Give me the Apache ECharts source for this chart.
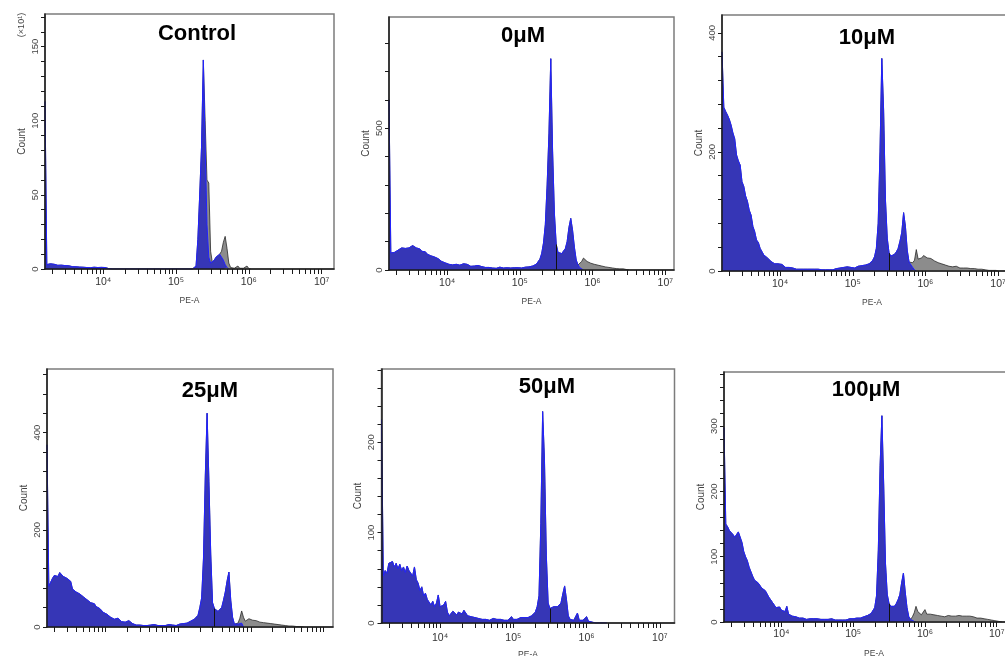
<!DOCTYPE html>
<html>
<head>
<meta charset="utf-8">
<script src="https://cdn.jsdelivr.net/npm/echarts@6/dist/echarts.min.js"></script>
<style>
  html, body { margin: 0; padding: 0; background: #ffffff; }
  #chart { width: 1005px; height: 656px; }
</style>
</head>
<body>
<div id="chart"></div>
<script>
// PE-A histogram channels: bin i sits at log10(PE-A) = BIN_START + i * BIN_STEP
const BIN_START = 3.2;
const BIN_STEP = 0.025;
const GATE_LOG = 5.5;           // marker between the G1 and G2 peaks

const panelTitles = ['Control', '0μM', '10μM', '25μM', '50μM', '100μM'];
const decadeLabels = { 4: '10⁴', 5: '10⁵', 6: '10⁶', 7: '10⁷' };

// Control (counts in units of x10)
const controlTotal = [
  113, 3, 4, 3.5, 3, 3.2, 2.8, 2.5, 2.2, 2.6,
  2, 2.3, 1.8, 2.2, 2, 1.6, 1.9, 1.5, 1.7, 1.3,
  1.5, 1.2, 1.4, 1, 1.3, 0.9, 1.1, 1.2, 0.8, 1,
  0.9, 1.1, 0.7, 1, 0.6, 0.3, 0, 0, 0, 0,
  0, 0, 0, 0, 0, 0, 0, 0, 0, 0,
  0, 0, 0, 0, 0, 0, 0, 0, 0, 0,
  0, 0, 0, 0, 0, 0, 0, 0, 0, 0,
  0, 0, 0, 0, 0, 0, 0, 0, 0, 0,
  0, 0, 0, 2, 20, 50, 82, 141, 100, 60,
  58, 12, 4, 6, 8, 9, 10, 12, 18, 22,
  14, 4, 1, 0.5, 0.5, 1.5, 2, 0.5, 0.5, 0.5,
  1, 2, 0.3, 0
];
const controlBlueFrom = 88;
const controlBlueTail = [85, 30, 8, 4, 4, 6, 8, 9, 10, 9, 6, 3, 1, 0];

// 0 μM
const uM0Total = [
  600, 60, 58, 62, 65, 70, 74, 78, 80, 76,
  82, 78, 84, 86, 80, 78, 72, 74, 66, 62,
  64, 56, 58, 50, 52, 46, 48, 40, 36, 30,
  28, 25, 22, 20, 24, 18, 16, 20, 14, 17,
  15, 22, 25, 20, 16, 13, 12, 14, 12, 16,
  18, 12, 10, 9, 11, 9, 8, 7, 9, 6,
  8, 10, 12, 7, 6, 8, 10, 7, 9, 8,
  6, 8, 9, 7, 8, 10, 9, 11, 12, 14,
  16, 20, 26, 38, 58, 95, 160, 300, 480, 745,
  420, 200, 90, 62, 55, 58, 62, 75, 100, 150,
  182, 140, 80, 35, 18, 15, 30, 42, 35, 30,
  26, 24, 22, 20, 18, 17, 16, 14, 12, 11,
  10, 9, 8, 7, 6, 5, 4, 4, 3, 4,
  2, 1, 0
];
const uM0BlueFrom = 105;
const uM0BlueTail = [8, 3, 0];

// 10 μM
const uM10Total = [
  368, 275, 268, 262, 255, 245, 232, 222, 195, 185,
  178, 150, 142, 126, 117, 102, 94, 75, 66, 52,
  48, 38, 35, 27, 26, 22, 21, 16, 14, 12,
  13, 12, 15, 11, 8, 6, 5, 6, 4, 5,
  4, 3, 4, 3, 4, 3, 2, 3, 4, 3,
  2, 3, 2, 3, 2, 2, 3, 2, 3, 2,
  3, 2, 3, 4, 3, 5, 4, 6, 5, 7,
  5, 6, 7, 5, 7, 8, 7, 9, 8, 10,
  11, 12, 14, 18, 24, 38, 80, 200, 357, 270,
  120, 55, 30, 25, 24, 28, 32, 38, 50, 65,
  98, 75, 35, 15, 12, 14, 18, 36, 20, 19,
  22, 26, 24, 22, 20, 21, 18, 17, 15, 14,
  15, 12, 11, 10, 9, 8, 8, 7, 7, 8,
  6, 5, 6, 5, 4, 5, 4, 4, 3, 4,
  3, 3, 2, 3, 2, 2, 2, 1, 2, 1,
  1, 1, 0
];
const uM10BlueFrom = 105;
const uM10BlueTail = [6, 2, 0];

// 25 μM
const uM25Total = [
  375, 84, 92, 100, 106, 110, 104, 112, 108, 104,
  106, 100, 96, 94, 78, 80, 72, 74, 68, 70,
  62, 60, 56, 58, 50, 46, 48, 42, 40, 38,
  34, 30, 32, 26, 24, 20, 18, 16, 14, 18,
  15, 11, 9, 10, 8, 13, 12, 7, 5, 4,
  3, 4, 5, 3, 4, 3, 5, 4, 3, 5,
  4, 3, 4, 3, 4, 3, 4, 5, 3, 4,
  5, 3, 4, 6, 5, 7, 6, 8, 10, 12,
  14, 16, 20, 24, 40, 60, 140, 310, 440, 300,
  150, 50, 38, 34, 32, 34, 40, 55, 72, 95,
  113, 55, 20, 6, 4, 8, 18, 33, 20, 12,
  10, 17, 15, 14, 12, 13, 11, 10, 11, 9,
  10, 8, 9, 7, 8, 6, 6, 5, 5, 4,
  4, 3, 3, 2, 3, 2, 2, 1, 2, 1,
  1, 0
];
const uM25BlueFrom = 105;
const uM25BlueTail = [6, 10, 8, 0];

// 50 μM (whole histogram inside the blue gate)
const uM50Total = [
  225, 52, 58, 55, 66, 64, 68, 62, 66, 60,
  65, 58, 62, 56, 63, 58, 60, 52, 62, 48,
  44, 36, 40, 30, 33, 26, 28, 20, 24, 18,
  22, 31, 18, 16, 20, 24, 12, 8, 10, 13,
  11, 9, 12, 13, 10, 14, 12, 8, 9, 7,
  8, 6, 7, 5, 6, 4, 5, 4, 6, 3,
  4, 5, 3, 4, 3, 4, 5, 3, 4, 3,
  5, 7, 4, 5, 4, 5, 6, 5, 6, 7,
  6, 7, 8, 9, 12, 18, 30, 110, 234, 180,
  75, 22, 16, 15, 18, 16, 18, 17, 22, 32,
  41, 26, 8, 4, 2, 3, 5, 11, 3, 2,
  3, 4, 7, 2, 1, 1, 1, 0, 1, 0,
  1, 0, 1, 0
];

// 100 μM
const uM100Total = [
  298, 150, 146, 140, 142, 134, 130, 128, 138, 140,
  122, 108, 100, 94, 84, 86, 70, 64, 62, 60,
  58, 52, 50, 48, 46, 38, 34, 30, 26, 22,
  24, 23, 18, 20, 16, 24, 12, 10, 9, 8,
  8, 7, 6, 5, 6, 5, 4, 6, 5, 6,
  5, 7, 5, 6, 4, 3, 4, 3, 4, 3,
  5, 4, 3, 5, 3, 4, 3, 4, 3, 4,
  5, 4, 5, 4, 6, 5, 6, 7, 8, 8,
  10, 11, 13, 16, 22, 40, 110, 240, 316, 210,
  90, 42, 28, 24, 22, 24, 28, 34, 42, 60,
  75, 46, 22, 8, 4, 8, 14, 24, 16, 14,
  11, 13, 19, 12, 11, 12, 10, 11, 9, 10,
  8, 9, 10, 8, 9, 10, 8, 9, 8, 9,
  8, 10, 8, 9, 8, 9, 8, 9, 7, 8,
  7, 6, 7, 6, 5, 5, 4, 4, 3, 3,
  2, 2, 1, 1, 1, 0
];
const uM100BlueFrom = 105;
const uM100BlueTail = [3, 1, 0];

const histograms = [
  { total: controlTotal, blue: controlTotal.slice(0, controlBlueFrom).concat(controlBlueTail) },
  { total: uM0Total, blue: uM0Total.slice(0, uM0BlueFrom).concat(uM0BlueTail) },
  { total: uM10Total, blue: uM10Total.slice(0, uM10BlueFrom).concat(uM10BlueTail) },
  { total: uM25Total, blue: uM25Total.slice(0, uM25BlueFrom).concat(uM25BlueTail) },
  { total: uM50Total, blue: uM50Total },
  { total: uM100Total, blue: uM100Total.slice(0, uM100BlueFrom).concat(uM100BlueTail) }
];

// layout of the six plot boxes
const layout = [
  { left: 45,    top: 14,  width: 289, height: 255, xMax: 7.17, yMax: 172, yStep: 10,  yLabelStep: 50,  xLabels: true,  xMargin: 8,  gate: false, title: [197, 34] },
  { left: 389,   top: 17,  width: 285, height: 253, xMax: 7.12, yMax: 892, yStep: 100, yLabelStep: 500, xLabels: true,  xMargin: 8,  gate: true,  title: [523, 36] },
  { left: 722,   top: 15,  width: 300, height: 256, xMax: 7.33, yMax: 430, yStep: 40,  yLabelStep: 200, xLabels: true,  xMargin: 8,  gate: true,  title: [867, 38] },
  { left: 47,    top: 369, width: 286, height: 258, xMax: 7.13, yMax: 531, yStep: 40,  yLabelStep: 200, xLabels: false, xMargin: 8,  gate: true,  title: [210, 391] },
  { left: 381.5, top: 369, width: 293, height: 254, xMax: 7.20, yMax: 281, yStep: 20,  yLabelStep: 100, xLabels: true,  xMargin: 10, gate: true,  title: [547, 387] },
  { left: 724,   top: 372, width: 300, height: 250, xMax: 7.38, yMax: 383, yStep: 20,  yLabelStep: 100, xLabels: true,  xMargin: 7,  gate: true,  title: [866, 390] }
];

const FONT = 'Liberation Sans, Arial, sans-serif';

function toPairs(counts) {
  return counts.map((c, i) => [BIN_START + i * BIN_STEP, c]);
}

function logTicks(max) {
  const out = [];
  for (let n = 3; n <= 7; n++) {
    for (let k = 1; k <= 9; k++) {
      const v = n + Math.log10(k);
      if (v >= BIN_START - 1e-9 && v <= max + 1e-9) out.push(v);
    }
  }
  return out;
}

const grids = [], xAxes = [], yAxes = [], series = [], graphics = [];

layout.forEach((L, p) => {
  grids.push({
    left: L.left, top: L.top, width: L.width, height: L.height,
    show: true, borderColor: '#7c7c7c', borderWidth: 1.5,
    backgroundColor: 'transparent', containLabel: false, outerBoundsMode: 'none'
  });

  xAxes.push({
    gridIndex: p, type: 'value', min: BIN_START, max: L.xMax, z: 5,
    axisLine: { show: true, onZero: false, lineStyle: { color: '#1a1a1a', width: 1.5 } },
    axisTick: { show: true, length: 5, lineStyle: { color: '#1a1a1a', width: 1 },
                customValues: logTicks(L.xMax) },
    axisLabel: {
      show: L.xLabels, margin: L.xMargin, fontSize: 10.5, color: '#333', fontFamily: FONT,
      customValues: [4, 5, 6, 7].filter(v => v <= L.xMax),
      formatter: v => decadeLabels[Math.round(v)] || ''
    },
    splitLine: { show: false },
    name: L.xLabels ? 'PE-A' : '', nameLocation: 'middle', nameGap: 27,
    nameTextStyle: { fontSize: 8.5, color: '#444', fontFamily: FONT }
  });

  yAxes.push({
    gridIndex: p, type: 'value', min: 0, max: L.yMax, interval: L.yStep, z: 5,
    axisLine: { show: true, onZero: false, lineStyle: { color: '#1a1a1a', width: 1.5 } },
    axisTick: { show: true, length: 4, lineStyle: { color: '#1a1a1a', width: 1 } },
    axisLabel: {
      rotate: 90, margin: 5, fontSize: 9.5, color: '#444', fontFamily: FONT,
      showMaxLabel: false,
      formatter: v => (v % L.yLabelStep === 0 ? String(v) : '')
    },
    splitLine: { show: false },
    name: 'Count', nameLocation: 'middle', nameGap: 18, nameMoveOverlap: false,
    nameTextStyle: { fontSize: 10, color: '#444', fontFamily: FONT }
  });

  const H = histograms[p];
  series.push({
    type: 'line', xAxisIndex: p, yAxisIndex: p, data: toPairs(H.total),
    symbol: 'none', silent: true, z: 2, clip: true,
    lineStyle: { color: '#2a2a2a', width: 0.8 },
    areaStyle: { color: '#8c8c8c', opacity: 1 }
  });

  const gateIdx = Math.round((GATE_LOG - BIN_START) / BIN_STEP);
  series.push({
    type: 'line', xAxisIndex: p, yAxisIndex: p, data: toPairs(H.blue),
    symbol: 'none', silent: true, z: 3, clip: true,
    lineStyle: { color: '#2222ff', width: 1 },
    areaStyle: { color: '#3636b6', opacity: 1 },
    markLine: L.gate ? {
      silent: true, symbol: ['none', 'none'], label: { show: false },
      lineStyle: { color: '#111', width: 1, type: 'solid' },
      data: [[{ coord: [GATE_LOG, 0] }, { coord: [GATE_LOG, H.total[gateIdx]] }]]
    } : undefined
  });

  graphics.push({
    type: 'text', x: L.title[0], y: L.title[1], z: 20,
    style: {
      text: panelTitles[p], fill: '#000', font: 'bold 22px ' + FONT,
      textAlign: 'center', textVerticalAlign: 'middle'
    }
  });
});

// axis multiplier shown on the Control count axis
graphics.push({
  type: 'text', x: 22, y: 25, rotation: Math.PI / 2, z: 20,
  style: { text: '(×10¹)', fill: '#444', font: '9px ' + FONT, textAlign: 'center', textVerticalAlign: 'middle' }
});

const chart = echarts.init(document.getElementById('chart'), null, { renderer: 'canvas' });
chart.setOption({
  animation: false,
  backgroundColor: '#ffffff',
  grid: grids,
  xAxis: xAxes,
  yAxis: yAxes,
  series: series,
  graphic: graphics
});
</script>
</body>
</html>
